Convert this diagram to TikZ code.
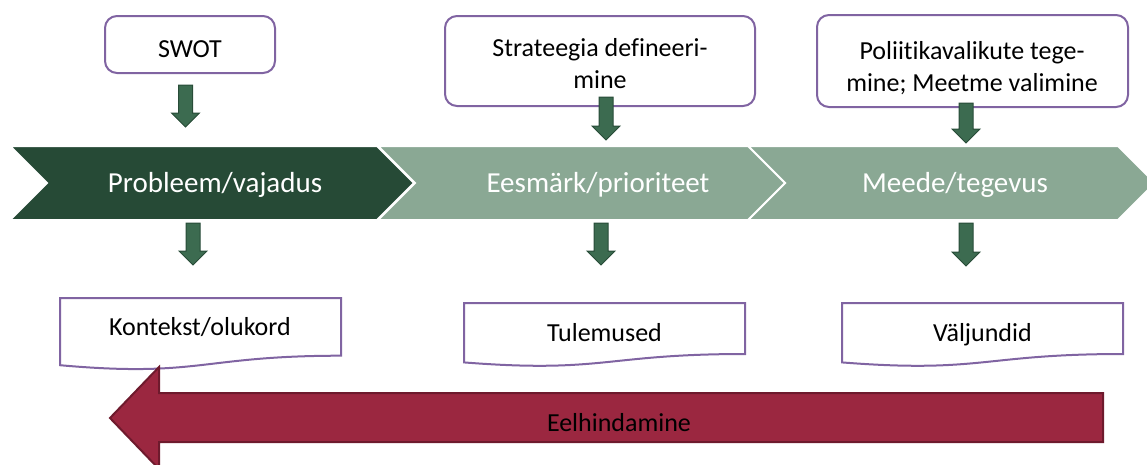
\documentclass[tikz,border=0pt]{standalone}
\usepackage{fontspec}
\setmainfont{Carlito}[Ligatures={NoCommon,NoContextual}]
\definecolor{darkg}{HTML}{264A36}
\definecolor{lightg}{HTML}{8AA894}
\definecolor{arrg}{HTML}{3C6B50}
\definecolor{arrgline}{HTML}{284C38}
\definecolor{boxpurple}{HTML}{8064A2}
\definecolor{redfill}{HTML}{9B2740}
\definecolor{redline}{HTML}{6E1A2D}
\newcommand\sarr[3]{\filldraw[sarrow] (#1-7,#2) -- (#1+7,#2) -- (#1+7,#3-14) -- (#1+14,#3-14) -- (#1,#3) -- (#1-14,#3-14) -- (#1-7,#3-14) -- cycle;}
\tikzset{
  chevdark/.style={fill=darkg, draw=white, line width=2pt, line join=miter},
  chevlight/.style={fill=lightg, draw=white, line width=2pt, line join=miter},
  chevtext/.style={text=white, inner sep=0pt, font=\fontsize{29}{35}\selectfont},
  topbox/.style={draw=boxpurple, line width=2pt, rounded corners=12pt, fill=white},
  boxtext/.style={text=black, inner sep=0pt, font=\fontsize{26}{32}\selectfont, align=center},
  docline/.style={draw=boxpurple, line width=2pt, fill=white},
  sarrow/.style={fill=arrg, draw=arrgline, line width=1pt},
  redarrow/.style={fill=redfill, draw=redline, line width=2pt},
}
\begin{document}
\begin{tikzpicture}[x=1pt,y=-1pt]
\useasboundingbox (0,0) rectangle (1147,464);
% chevrons
\path[chevlight] (748,146) -- (1118,146) -- (1155,183) -- (1118,220) -- (748,220) -- (785,183) -- cycle;
\path[chevlight] (378,146) -- (748,146) -- (785,183) -- (748,220) -- (378,220) -- (415,183) -- cycle;
\path[chevdark] (10,146) -- (377,146) -- (414,183) -- (377,220) -- (10,220) -- (47,183) -- cycle;
\node[chevtext, anchor=base] (c1) at (215,192) {Probleem/vajadus};
\node[chevtext, anchor=base] (c2) at (598,192) {Eesmärk/prioriteet};
\node[chevtext, anchor=base] (c3) at (955,192) {Meede/tegevus};
% top boxes
\node[topbox, minimum width=170pt, minimum height=57pt] (swot) at (190,44.5) {};
\node[boxtext, anchor=base] (swott) at (190,57) {SWOT};
\node[topbox, minimum width=310pt, minimum height=90pt] (strat) at (600,61) {};
\node[boxtext, anchor=north] (stratt) at (600,38.6) {Strateegia defineeri-\\mine};
\node[topbox, minimum width=311pt, minimum height=92pt] (pol) at (972.5,61) {};
\node[boxtext, anchor=north] (polt) at (972,41.6) {Poliitikavalikute tege-\\mine; Meetme valimine};
% small arrows
\sarr{185.5}{85}{127}
\sarr{606}{97}{140}
\sarr{966}{103}{143}
\sarr{193}{223}{265}
\sarr{601}{223}{265}
\sarr{966}{223}{266}
% documents
\path[docline] (60,298) -- (341,298) -- (341,355.7) .. controls (200.5,355.7) and (200.5,377.7) .. (60,365.2) -- cycle;
\node[boxtext, anchor=base] (ctx) at (200,335) {Kontekst/olukord};
\path[docline] (464,303) -- (745,303) -- (745,354) .. controls (604.5,354) and (604.5,373.4) .. (464,362.4) -- cycle;
\node[boxtext, anchor=base] (tul) at (604.5,341) {Tulemused};
\path[docline] (842,303) -- (1123,303) -- (1123,354) .. controls (982.5,354) and (982.5,373.4) .. (842,362.4) -- cycle;
\node[boxtext, anchor=base] (valj) at (982.5,341) {Väljundid};
% big arrow
\path[redarrow] (1103,393) -- (159,393) -- (159,367) -- (110,418) -- (159,469) -- (159,442) -- (1103,442) -- cycle;
\node[boxtext, anchor=base] (eel) at (619,431) {Eelhindamine};
\end{tikzpicture}
\end{document}
